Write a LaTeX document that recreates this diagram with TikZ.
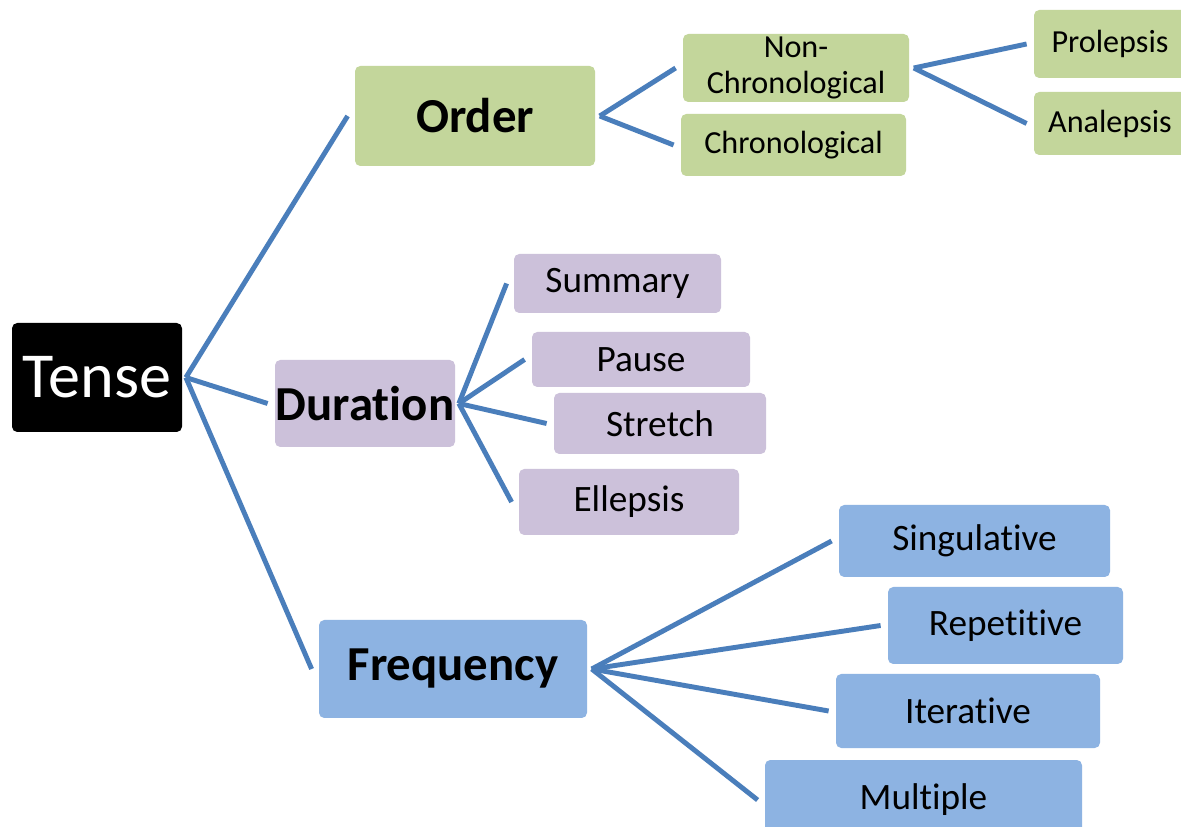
\documentclass[tikz,border=0pt]{standalone}
\usepackage{fontspec}
\setmainfont{Carlito}[Ligatures=NoCommon]
\definecolor{ordergreen}{HTML}{C3D69B}
\definecolor{durpurple}{HTML}{CCC1DA}
\definecolor{freqblue}{HTML}{8DB3E2}
\definecolor{linkblue}{HTML}{4A7EBB}
\begin{document}
\begin{tikzpicture}[x=0.02cm, y=-0.02cm,
    box/.style={rectangle, rounded corners=3pt, inner sep=0pt, align=center},
    leaf/.style={box, font=\fontsize{18.3}{20}\selectfont},
    bigleaf/.style={box, font=\fontsize{21.2}{24}\selectfont},
    head/.style={box, font=\fontsize{27.8}{30}\selectfont\bfseries},
    branch/.style={linkblue, line width=2.8pt}]
    \clip (0,0) rectangle (1181,827);
    \fill[white] (0,0) rectangle (1181,827);

    % root
    \node[box, fill=black, text=white, font=\fontsize{36.5}{40}\selectfont,
        minimum width=170*0.02cm, minimum height=109*0.02cm] (tense) at (97,377.5) {Tense};

    % order
    \node[head, fill=ordergreen, minimum width=240*0.02cm, minimum height=100*0.02cm] (order) at (475,116) {Order};
    \node[leaf, fill=ordergreen, minimum width=226*0.02cm, minimum height=68*0.02cm] (nonchron) at (796,68) {Non-\\Chronological};
    \node[leaf, fill=ordergreen, minimum width=225*0.02cm, minimum height=62*0.02cm] (chron) at (793.5,145) {Chronological};
    \node[leaf, fill=ordergreen, minimum width=152*0.02cm, minimum height=68*0.02cm] (prolepsis) at (1110,44) {Prolepsis};
    \node[leaf, fill=ordergreen, minimum width=152*0.02cm, minimum height=63*0.02cm] (analepsis) at (1110,123.5) {Analepsis};

    % duration
    \node[head, fill=durpurple, minimum width=180*0.02cm, minimum height=87*0.02cm] (duration) at (365,403.5) {Duration};
    \node[bigleaf, fill=durpurple, minimum width=207*0.02cm, minimum height=59*0.02cm] (summary) at (617.5,283.5) {Summary};
    \node[bigleaf, fill=durpurple, minimum width=218*0.02cm, minimum height=55*0.02cm] (pause) at (641,359.5) {Pause};
    \node[bigleaf, fill=durpurple, minimum width=212*0.02cm, minimum height=61*0.02cm] (stretch) at (660,423.5) {Stretch};
    \node[bigleaf, fill=durpurple, minimum width=220*0.02cm, minimum height=66*0.02cm] (ellepsis) at (629,502) {Ellepsis};

    % frequency
    \node[head, fill=freqblue, minimum width=268*0.02cm, minimum height=98*0.02cm] (frequency) at (453,669) {Frequency};
    \node[bigleaf, fill=freqblue, minimum width=271*0.02cm, minimum height=72*0.02cm] (singulative) at (974.5,541) {Singulative};
    \node[bigleaf, fill=freqblue, minimum width=235*0.02cm, minimum height=77*0.02cm] (repetitive) at (1005.5,625.5) {Repetitive};
    \node[bigleaf, fill=freqblue, minimum width=264*0.02cm, minimum height=74*0.02cm] (iterative) at (968,711) {Iterative};
    \node[bigleaf, fill=freqblue, minimum width=317*0.02cm, minimum height=80*0.02cm] (multiple) at (923.5,800) {Multiple};

    % links
    \foreach \c in {order,duration,frequency}
        \draw[branch] ([xshift=2pt]tense.east) -- ([xshift=-4pt]\c.west);
    \foreach \c in {nonchron,chron}
        \draw[branch] ([xshift=2.5pt]order.east) -- ([xshift=-4pt]\c.west);
    \foreach \c in {prolepsis,analepsis}
        \draw[branch] ([xshift=2.5pt]nonchron.east) -- ([xshift=-4pt]\c.west);
    \foreach \c in {summary,pause,stretch,ellepsis}
        \draw[branch] ([xshift=2pt]duration.east) -- ([xshift=-4pt]\c.west);
    \foreach \c in {singulative,repetitive,iterative,multiple}
        \draw[branch] ([xshift=2.5pt]frequency.east) -- ([xshift=-4pt]\c.west);
\end{tikzpicture}
\end{document}
